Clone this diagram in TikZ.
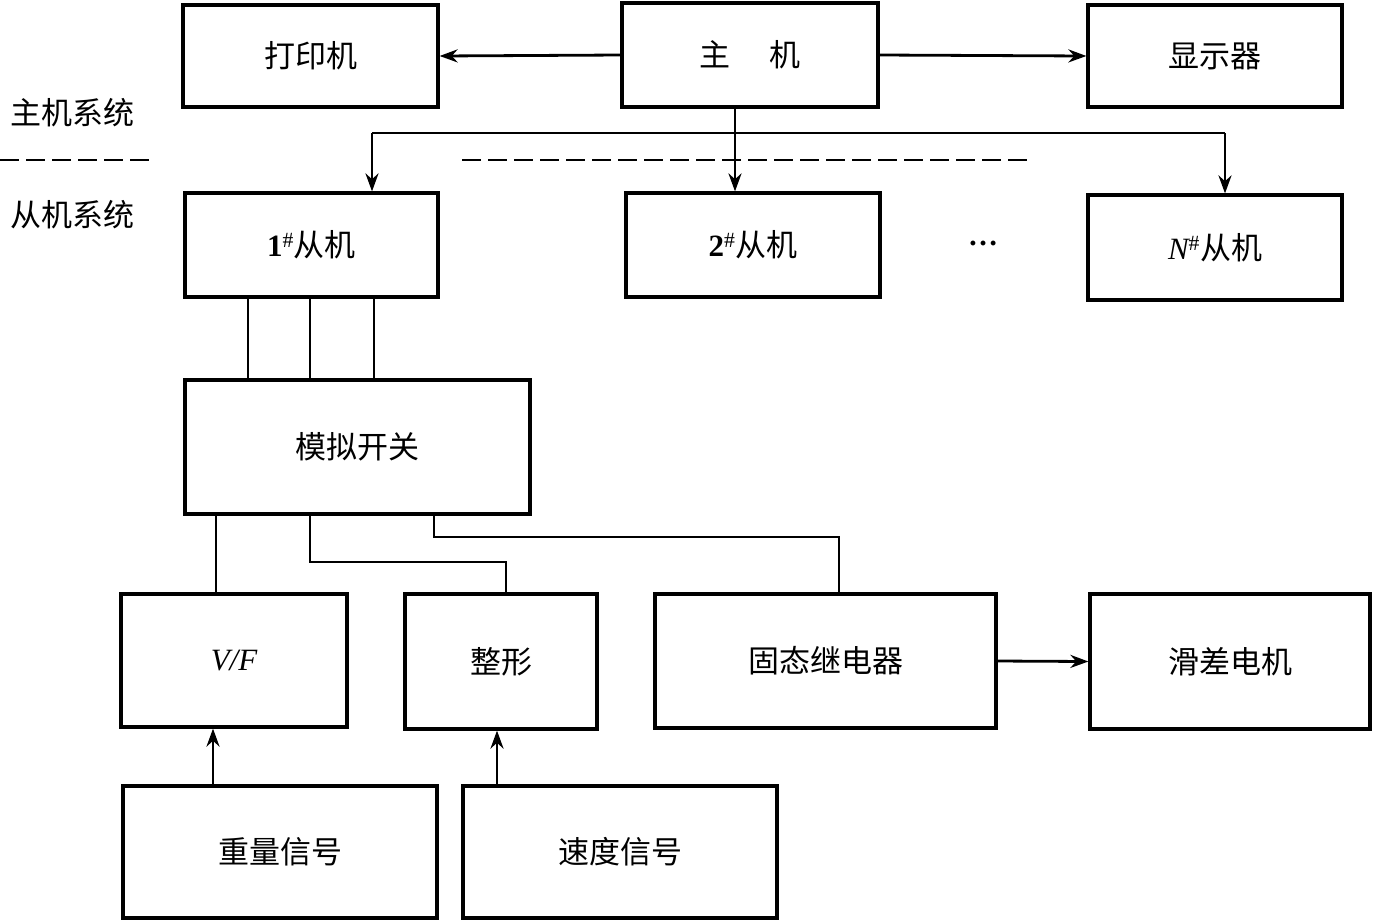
\documentclass[tikz,border=0pt]{standalone}
\usepackage{fontspec}
\setmainfont{Liberation Serif}
\newfontfamily\cjk{Noto Sans CJK SC}
\usetikzlibrary{arrows.meta,calc}
\begin{document}
\begin{tikzpicture}[x=1pt,y=-1pt,
  blk/.style={draw,line width=3.2pt,inner sep=0pt,font=\cjk\fontsize{31}{33}\selectfont},
  wire/.style={line width=2.8pt},
  arr/.style={wire,-{Stealth[length=18pt,width=13pt]}},
  dsh/.style={line width=2.8pt,dash pattern=on 19pt off 7pt}]
\useasboundingbox (0,0) rectangle (1375,922);
% boxes
\node[blk,minimum width=255pt,minimum height=102pt] (dyj) at (310.5,56) {打印机};
\node[blk,minimum width=256pt,minimum height=104pt] (zj) at (750,55) {主\hspace{1.25em}机};
\node[blk,minimum width=254pt,minimum height=102pt] (xsq) at (1215,56) {显示器};
\node[blk,minimum width=253pt,minimum height=104pt] (c1) at (311.5,245) {{\rmfamily\bfseries 1}\textsuperscript{\rmfamily\#}从机};
\node[blk,minimum width=254pt,minimum height=104pt] (c2) at (753,245) {{\rmfamily\bfseries 2}\textsuperscript{\rmfamily\#}从机};
\node[blk,minimum width=254pt,minimum height=105pt] (cN) at (1215,247.5) {{\rmfamily\itshape N}\textsuperscript{\rmfamily\#}从机};
\node[blk,minimum width=345pt,minimum height=134pt] (mn) at (357.5,447) {模拟开关};
\node[blk,minimum width=226pt,minimum height=133pt] (vf) at (234,660.5) {\rmfamily\itshape V/F};
\node[blk,minimum width=192pt,minimum height=135pt] (zx) at (501,661.5) {整形};
\node[blk,minimum width=341pt,minimum height=134pt] (gt) at (825.5,661) {固态继电器};
\node[blk,minimum width=280pt,minimum height=135pt] (hc) at (1230,661.5) {滑差电机};
\node[blk,minimum width=314pt,minimum height=132pt] (zl) at (280,852) {重量信号};
\node[blk,minimum width=314pt,minimum height=132pt] (sd) at (620,852) {速度信号};
% side labels
\node[font=\cjk\fontsize{31}{33}\selectfont] (lm) at (72,113) {主机系统};
\node[font=\cjk\fontsize{31}{33}\selectfont] (ls) at (72,215) {从机系统};
\node[font=\fontsize{30}{32}\selectfont\bfseries] (dots) at (983,243) {…};
% dashed separators
\coordinate (d1) at (0,160); \coordinate (d2) at (152,160);
\coordinate (d3) at (462,160); \coordinate (d4) at (1030,160);
\draw[dsh] (d1) -- (d2);
\draw[dsh] (d3) -- (d4);
% top connections
\draw[arr] (zj.west) -- (dyj.east);
\draw[arr] (zj.east) -- (xsq.west);
\coordinate (b0) at (735,133);
\coordinate (b1) at (372,133);
\coordinate (bN) at (1225,133);
\draw[wire] (zj.south -| b0) -- (b0);
\draw[wire] (b1) -- (bN);
\draw[arr] (b1) -- (c1.north -| b1);
\draw[arr] (b0) -- (c2.north -| b0);
\draw[arr] (bN) -- (cN.north -| bN);
% slave 1 to analog switch
\coordinate (l1) at (248,0); \coordinate (l2) at (310,0); \coordinate (l3) at (374,0);
\draw[wire] (c1.south -| l1) -- (mn.north -| l1);
\draw[wire] (c1.south -| l2) -- (mn.north -| l2);
\draw[wire] (c1.south -| l3) -- (mn.north -| l3);
% analog switch outputs
\coordinate (m1) at (216,0);
\draw[wire] (mn.south -| m1) -- (vf.north -| m1);
\coordinate (m2a) at (310,562); \coordinate (m2b) at (506,562);
\draw[wire] (mn.south -| m2a) -- (m2a) -- (m2b) -- (zx.north -| m2b);
\coordinate (m3a) at (434,537); \coordinate (m3b) at (839,537);
\draw[wire] (mn.south -| m3a) -- (m3a) -- (m3b) -- (gt.north -| m3b);
% relay to motor
\draw[arr] (gt.east) -- (hc.west);
% signals up
\coordinate (s1) at (213,0); \coordinate (s2) at (497,0);
\draw[arr] (zl.north -| s1) -- (vf.south -| s1);
\draw[arr] (sd.north -| s2) -- (zx.south -| s2);
\end{tikzpicture}
\end{document}
